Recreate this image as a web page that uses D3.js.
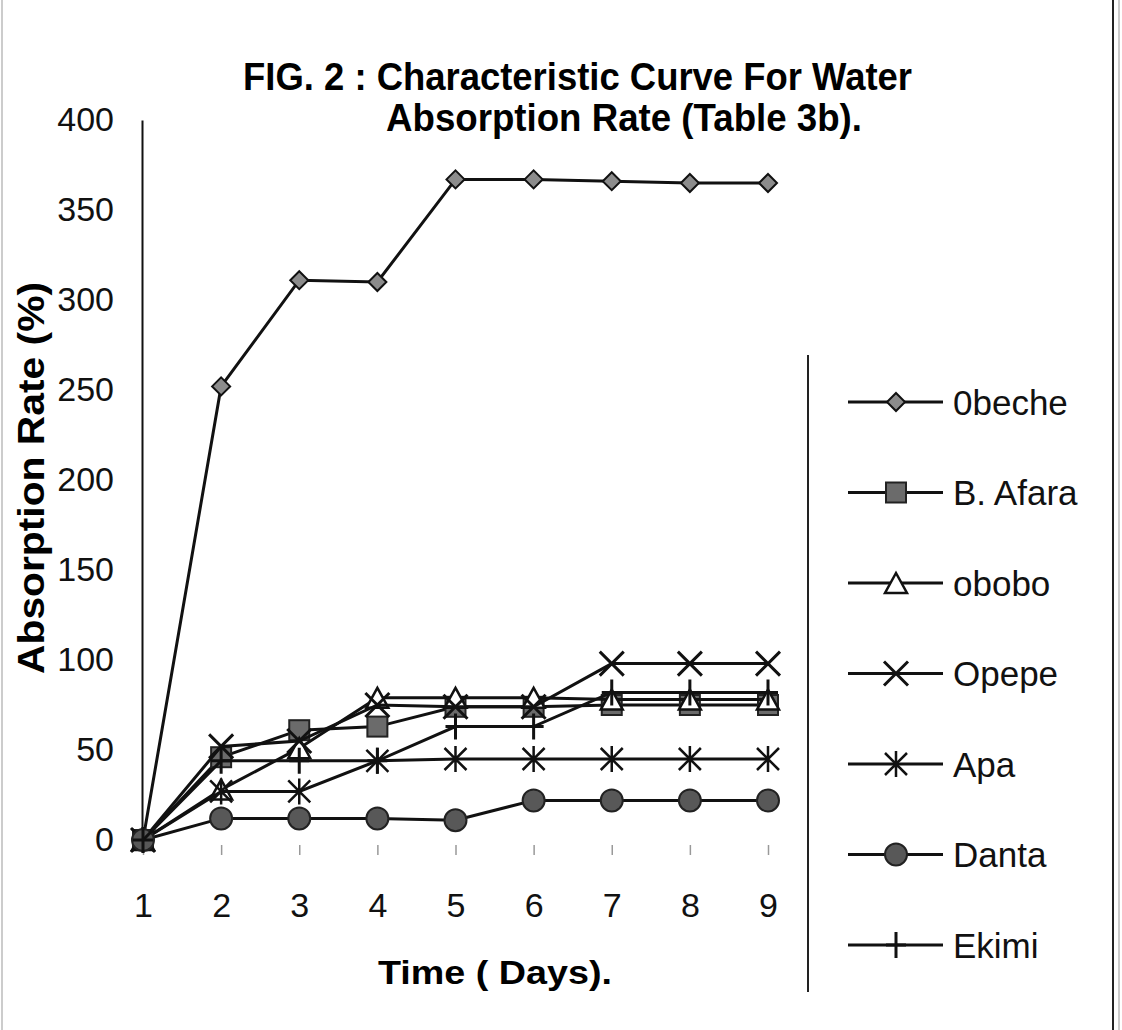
<!DOCTYPE html>
<html>
<head>
<meta charset="utf-8">
<script src="https://cdn.jsdelivr.net/npm/d3@7/dist/d3.min.js"></script>
<style>
  body { margin: 0; background: #fff; }
  svg { display: block; }
</style>
</head>
<body>
<svg id="chart" width="1122" height="1030"></svg>
<script>
// valeurs (taux d'absorption en %)
var days = [1, 2, 3, 4, 5, 6, 7, 8, 9];
var yTicks = [0, 50, 100, 150, 200, 250, 300, 350, 400];

var obeche  = [0, 252, 311, 310, 367, 367, 366, 365, 365];
var bAfara  = [0, 46, 61, 63, 74, 74, 75, 75, 75];
var obobo   = [0, 28, 51, 79, 79, 79, 78, 78, 78];
var opepe   = [0, 52, 55, 75, 74, 74, 98, 98, 98];
var apa     = [0, 27, 27, 44, 45, 45, 45, 45, 45];
var danta   = [0, 12, 12, 12, 11, 22, 22, 22, 22];
var ekimi   = [0, 44, 44, 44, 63, 63, 82, 82, 82];

var names   = ["0beche", "B. Afara", "obobo", "Opepe", "Apa", "Danta", "Ekimi"];
var symbols = ["diamond", "square", "triangle", "x", "asterisk", "circle", "plus"];
var values  = [obeche, bAfara, obobo, opepe, apa, danta, ekimi];

var svg = d3.select("#chart");
var width = 1122, height = 1030;

svg.append("rect").attr("width", width).attr("height", height).attr("fill", "#fff");

// bordures de la page scannée
svg.append("line").attr("x1", 1113).attr("x2", 1113).attr("y1", 0).attr("y2", height)
   .attr("stroke", "#222").attr("stroke-width", 2);
svg.append("line").attr("x1", 1119).attr("x2", 1119).attr("y1", 0).attr("y2", height)
   .attr("stroke", "#999").attr("stroke-width", 1);
svg.append("line").attr("x1", 2).attr("x2", 2).attr("y1", 0).attr("y2", height)
   .attr("stroke", "#bbb").attr("stroke-width", 1.5);

var x = d3.scaleLinear().domain([1, 9]).range([143, 768]);
var y = d3.scaleLinear().domain([0, 400]).range([840, 120]);

var font = "'Liberation Sans', Arial, sans-serif";

// titre (police étroite et grasse dans l'original)
svg.append("text")
   .attr("x", 243).attr("y", 90)
   .attr("textLength", 669).attr("lengthAdjust", "spacingAndGlyphs")
   .style("font-family", font).style("font-weight", "bold").style("font-size", "38px")
   .text("FIG. 2 : Characteristic Curve For Water");
svg.append("text")
   .attr("x", 386).attr("y", 131)
   .attr("textLength", 476).attr("lengthAdjust", "spacingAndGlyphs")
   .style("font-family", font).style("font-weight", "bold").style("font-size", "38px")
   .text("Absorption Rate (Table 3b).");

// axe Y
var yAxis = svg.append("g")
   .attr("transform", "translate(142,0)")
   .call(d3.axisLeft(y).tickValues(yTicks).tickSize(0).tickSizeOuter(0).tickPadding(28));
yAxis.select(".domain").attr("stroke", "#111").attr("stroke-width", 2);
yAxis.selectAll("text")
   .style("font-family", font).style("font-size", "34px").attr("fill", "#111");

// axe X (petites graduations seulement)
var xAxis = svg.append("g")
   .attr("transform", "translate(0,845)")
   .call(d3.axisBottom(x).tickValues(days).tickSize(10).tickPadding(38).tickFormat(d3.format("d")));
xAxis.select(".domain").remove();
xAxis.selectAll("line").attr("stroke", "#999").attr("stroke-width", 1.5);
xAxis.selectAll("text")
   .style("font-family", font).style("font-size", "34px").attr("fill", "#111");

// titres des axes
svg.append("text")
   .attr("transform", "translate(44,478) rotate(-90)")
   .attr("text-anchor", "middle")
   .attr("textLength", 392).attr("lengthAdjust", "spacingAndGlyphs")
   .style("font-family", font).style("font-weight", "bold").style("font-size", "36px")
   .text("Absorption Rate (%)");
svg.append("text")
   .attr("x", 378).attr("y", 984)
   .attr("textLength", 234).attr("lengthAdjust", "spacingAndGlyphs")
   .style("font-family", font).style("font-weight", "bold").style("font-size", "33px")
   .text("Time ( Days).");

// dessin d'un marqueur selon son type
function drawMarker(g, type, cx, cy, scale) {
    var s = scale || 1;
    if (type == "diamond") {
        var h = 9 * s;
        g.append("path")
         .attr("d", "M" + cx + "," + (cy - h) + "L" + (cx + h) + "," + cy + "L" + cx + "," + (cy + h) + "L" + (cx - h) + "," + cy + "Z")
         .attr("fill", "#8c8c8c").attr("stroke", "#111").attr("stroke-width", 2);
    } else if (type == "square") {
        var h = 10 * s;
        g.append("rect").attr("x", cx - h).attr("y", cy - h).attr("width", 2 * h).attr("height", 2 * h)
         .attr("fill", "#6b6b6b").attr("stroke", "#222").attr("stroke-width", 2);
    } else if (type == "triangle") {
        var w = 11 * s, h = 10 * s;
        g.append("path")
         .attr("d", "M" + cx + "," + (cy - h) + "L" + (cx + w) + "," + (cy + h) + "L" + (cx - w) + "," + (cy + h) + "Z")
         .attr("fill", "#fff").attr("stroke", "#111").attr("stroke-width", 2.5);
    } else if (type == "x") {
        var h = 12 * s;
        g.append("path")
         .attr("d", "M" + (cx - h) + "," + (cy - h) + "L" + (cx + h) + "," + (cy + h) + "M" + (cx + h) + "," + (cy - h) + "L" + (cx - h) + "," + (cy + h))
         .attr("stroke", "#111").attr("stroke-width", 3).attr("fill", "none");
    } else if (type == "asterisk") {
        var h = 11 * s;
        g.append("path")
         .attr("d", "M" + (cx - h) + "," + (cy - h) + "L" + (cx + h) + "," + (cy + h) + "M" + (cx + h) + "," + (cy - h) + "L" + (cx - h) + "," + (cy + h) + "M" + cx + "," + (cy - h - 2) + "L" + cx + "," + (cy + h + 2))
         .attr("stroke", "#111").attr("stroke-width", 2.5).attr("fill", "none");
    } else if (type == "circle") {
        g.append("circle").attr("cx", cx).attr("cy", cy).attr("r", 11 * s)
         .attr("fill", "#585858").attr("stroke", "#222").attr("stroke-width", 2);
    } else if (type == "plus") {
        var h = 13 * s;
        g.append("path")
         .attr("d", "M" + cx + "," + (cy - h) + "L" + cx + "," + (cy + h) + "M" + (cx - 10 * s) + "," + cy + "L" + (cx + 10 * s) + "," + cy)
         .attr("stroke", "#111").attr("stroke-width", 3).attr("fill", "none");
    }
}

// les séries
var line = d3.line()
    .x(function(d, i) { return x(days[i]); })
    .y(function(d) { return y(d); });

var plot = svg.append("g");
values.forEach(function(serie, k) {
    var g = plot.append("g").attr("class", "serie");
    g.append("path")
     .attr("d", line(serie))
     .attr("fill", "none").attr("stroke", "#111").attr("stroke-width", 3);
    serie.forEach(function(v, i) {
        drawMarker(g, symbols[k], x(days[i]), y(v), 1);
    });
});

// légende
var legend = svg.append("g");
legend.append("line").attr("x1", 808).attr("x2", 808).attr("y1", 355).attr("y2", 992)
      .attr("stroke", "#222").attr("stroke-width", 2);

names.forEach(function(name, i) {
    var ly = 402 + i * 90.5;
    legend.append("line").attr("x1", 848).attr("x2", 943).attr("y1", ly).attr("y2", ly)
          .attr("stroke", "#111").attr("stroke-width", 3);
    drawMarker(legend, symbols[i], 896, ly, 1);
    legend.append("text")
          .attr("x", 953).attr("y", ly).attr("dy", "0.36em")
          .style("font-family", font).style("font-size", "35px").attr("fill", "#111")
          .text(name);
});
</script>
</body>
</html>
